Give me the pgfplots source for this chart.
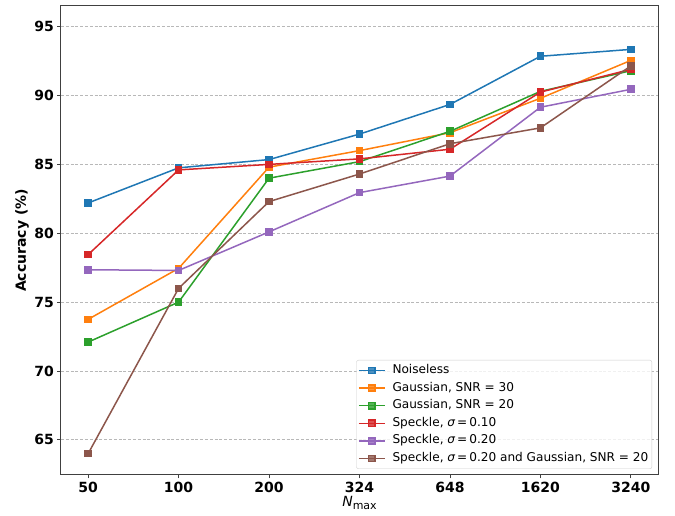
\documentclass[border=0pt]{standalone}
\usepackage{pgfplots}
\pgfplotsset{compat=1.18}
\usepackage{fontspec}
\setmainfont{DejaVu Sans}
\definecolor{c0}{HTML}{1F77B4}
\definecolor{c1}{HTML}{FF7F0E}
\definecolor{c2}{HTML}{2CA02C}
\definecolor{c3}{HTML}{D62728}
\definecolor{c4}{HTML}{9467BD}
\definecolor{c5}{HTML}{8C564B}
\definecolor{gridc}{HTML}{B8B8B8}
\definecolor{framec}{HTML}{404040}
\begin{document}
\begin{tikzpicture}
\begin{axis}[
  scale only axis,
  width=597pt, height=469pt,
  xmin=-0.3, xmax=6.3,
  ymin=62.45, ymax=96.5,
  xtick={0,1,2,3,4,5,6},
  xticklabels={50,100,200,324,648,1620,3240},
  ytick={65,70,75,80,85,90,95},
  /pgf/number format/assume math mode=true,
  ticklabel style={font=\fontsize{14}{16}\selectfont\bfseries},
  tick align=outside,
  major tick length=3.5pt,
  xtick pos=bottom, ytick pos=left,
  tick style={framec, line width=0.8pt},
  axis line style={framec, line width=1pt},
  ymajorgrids,
  grid style={gridc, line width=0.8pt, dash pattern=on 3pt off 1.8pt},
  ylabel={\bfseries Accuracy (\%)},
  ylabel style={font=\fontsize{14}{16}\selectfont, at={(axis description cs:-0.0653,0.5)}, anchor=center, rotate=0},
  xlabel={{\itshape N}\raisebox{-0.35ex}{\fontsize{11}{12}\selectfont max}},
  xlabel style={font=\fontsize{14}{16}\selectfont, at={(axis description cs:0.5,-0.06)}, anchor=center},
  every axis plot/.append style={line width=1.5pt, mark=square*, mark size=3.1pt, mark options={solid}},
  legend image code/.code={\path (0pt,0pt) (31pt,0pt); \draw[mark repeat=2,mark phase=2] plot coordinates {(0pt,0pt)(13pt,0pt)(26pt,0pt)};},
  legend cell align=left,
  legend style={
    at={(axis description cs:1,0)}, anchor=south east, xshift=-6pt, yshift=6pt,
    font=\fontsize{12.1}{14}\selectfont,
    draw=gridc!70, rounded corners=2pt, fill=white, fill opacity=0.8, text opacity=1,
    inner sep=1.5pt, row sep=0pt,
    nodes={text height=9pt, text depth=3pt, inner ysep=2.8pt, inner xsep=2pt},
  },
]
\addplot[c0] coordinates {(0,82.2)(1,84.75)(2,85.35)(3,87.2)(4,89.35)(5,92.85)(6,93.35)};
\addlegendentry{Noiseless}
\addplot[c1] coordinates {(0,73.75)(1,77.45)(2,84.8)(3,86.0)(4,87.3)(5,89.8)(6,92.55)};
\addlegendentry{Gaussian, SNR = 30}
\addplot[c2] coordinates {(0,72.1)(1,75.0)(2,84.0)(3,85.2)(4,87.4)(5,90.3)(6,91.8)};
\addlegendentry{Gaussian, SNR = 20}
\addplot[c3] coordinates {(0,78.45)(1,84.6)(2,85.0)(3,85.4)(4,86.1)(5,90.25)(6,91.9)};
\addlegendentry{Speckle, {\itshape σ}\,=\,0.10}
\addplot[c4] coordinates {(0,77.35)(1,77.3)(2,80.1)(3,82.95)(4,84.15)(5,89.15)(6,90.45)};
\addlegendentry{Speckle, {\itshape σ}\,=\,0.20}
\addplot[c5] coordinates {(0,64.0)(1,76.0)(2,82.3)(3,84.3)(4,86.5)(5,87.65)(6,92.15)};
\addlegendentry{Speckle, {\itshape σ}\,=\,0.20 and Gaussian, SNR = 20}
\end{axis}
\path (current axis.south west) ++(-61pt,-41pt);
\path (current axis.north east) ++(17pt,6pt);
\end{tikzpicture}
\end{document}
